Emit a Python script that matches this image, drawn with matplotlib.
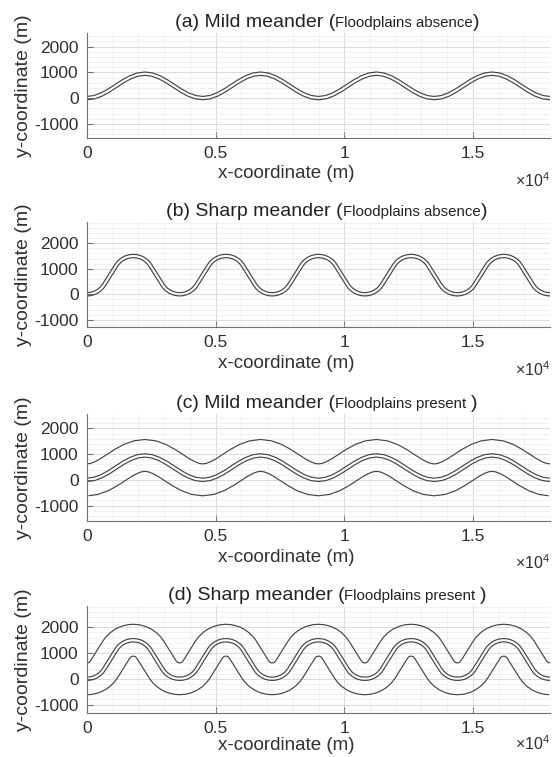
import matplotlib
matplotlib.use("Agg")
import matplotlib.pyplot as plt
import numpy as np
from matplotlib.offsetbox import TextArea, HPacker, AnchoredOffsetbox
from matplotlib.ticker import MultipleLocator

plt.rcParams['font.family'] = ['Liberation Sans', 'DejaVu Sans']
plt.rcParams['mathtext.fontset'] = 'custom'
plt.rcParams['mathtext.rm'] = 'Liberation Sans'
plt.rcParams['axes.unicode_minus'] = False

# centerline of half a wave (trough -> crest)
mild_half_x = [0, 281, 563, 844, 1125, 1406, 1688, 1969, 2250]
mild_half_y = [0, 36, 139, 293, 475, 657, 811, 914, 950]
mild_period = 4500

sharp_half_x = [0, 135, 266, 389, 500, 596, 660, 900, 1140, 1204, 1300, 1411, 1534, 1665, 1800]
sharp_half_y = [0, 12, 47, 104, 182, 278, 366, 750, 1134, 1222, 1318, 1396, 1453, 1488, 1500]
sharp_period = 3600

x_end = 18000
bank_half_width = 65     # channel banks
floodplain_dist = 620    # floodplain boundaries

titles = ["(a) Mild meander ", "(b) Sharp meander ", "(c) Mild meander ", "(d) Sharp meander "]
subtitles = ["Floodplains absence", "Floodplains absence", "Floodplains present ", "Floodplains present "]
ylims = [(-1550, 2530), (-1280, 2830), (-1600, 2560), (-1330, 2830)]
xtick_vals = [0, 5000, 10000, 15000]
xtick_labels = ["0", "0.5", "1", "1.5"]
ytick_vals = [-1000, 0, 1000, 2000]


def build_centerline(hx, hy, period):
    hx = np.array(hx, float)
    hy = np.array(hy, float)
    px = np.concatenate([hx, period - hx[::-1][1:]])
    py = np.concatenate([hy, hy[::-1][1:]])
    xs, ys = [px], [py]
    k = 1
    while k * period < x_end:
        xs.append(px[1:] + k * period)
        ys.append(py[1:])
        k += 1
    return np.concatenate(xs), np.concatenate(ys)


def offset(x, y, d):
    dx = np.gradient(x)
    dy = np.gradient(y)
    n = np.hypot(dx, dy)
    return x - d * dy / n, y + d * dx / n


mild = build_centerline(mild_half_x, mild_half_y, mild_period)
sharp = build_centerline(sharp_half_x, sharp_half_y, sharp_period)
curves = [mild, sharp, mild, sharp]
floodplain = [False, False, True, True]

fig = plt.figure(figsize=(5.57, 7.57), dpi=100)
# axes boxes in pixels (left, top, right, bottom)
boxes = [(87, 33, 550, 138), (87, 222, 550, 327), (87, 414, 550, 521), (87, 606, 550, 713)]
exp_drop = [43, 43, 42, 31]   # pixels below the axis for the x10^4 note
label_pads = [3, 3, 3, 0.5]
W, H = 557, 757

line_col = '#454545'
txt_col = '#303030'
for i in range(4):
    l, t, r, b = boxes[i]
    ax = fig.add_axes([l / W, 1 - b / H, (r - l) / W, (b - t) / H])
    cx, cy = curves[i]
    dists = [bank_half_width, -bank_half_width]
    if floodplain[i]:
        dists += [floodplain_dist, -floodplain_dist]
    for d in dists:
        ox, oy = offset(cx, cy, d)
        ax.plot(ox, oy, color=line_col, lw=0.85)

    ax.set_xlim(0, x_end)
    ax.set_ylim(*ylims[i])
    ax.set_xticks(xtick_vals)
    ax.set_xticklabels(xtick_labels)
    ax.set_yticks(ytick_vals)
    ax.xaxis.set_minor_locator(MultipleLocator(1000))
    ax.yaxis.set_minor_locator(MultipleLocator(200))
    ax.grid(True, which='major', color='#d6d6d6', lw=0.6)
    ax.grid(True, which='minor', color='#ebebeb', lw=0.5)
    ax.set_axisbelow(True)
    for s in ['top', 'right']:
        ax.spines[s].set_visible(False)
    for s in ['left', 'bottom']:
        ax.spines[s].set_color('#707070')
        ax.spines[s].set_linewidth(0.8)
    ax.tick_params(which='major', direction='in', length=4, width=0.8, color='#707070',
                   labelsize=12.5, labelcolor=txt_col, pad=6)
    ax.tick_params(which='minor', length=0)
    ax.set_xlabel("x-coordinate (m)", fontsize=13.5, color=txt_col, labelpad=label_pads[i], x=0.43)
    ax.set_ylabel("y-coordinate (m)", fontsize=14, color=txt_col, labelpad=2)
    ax.text(1.0, -exp_drop[i] / (b - t), r'$\times10^{4}$', transform=ax.transAxes,
            ha='right', va='center', fontsize=11.5, color=txt_col)

    parts = [TextArea(titles[i] + "(", textprops=dict(fontsize=14, color='#222222')),
             TextArea(subtitles[i], textprops=dict(fontsize=10.8, color='#222222')),
             TextArea(")", textprops=dict(fontsize=14, color='#222222'))]
    pack = HPacker(children=parts, align='baseline', pad=0, sep=0)
    box = AnchoredOffsetbox(loc='lower center', child=pack, pad=0, borderpad=0, frameon=False,
                            bbox_to_anchor=(0.518, 1.02), bbox_transform=ax.transAxes)
    ax.add_artist(box)

fig.savefig("out.png", dpi=100)
